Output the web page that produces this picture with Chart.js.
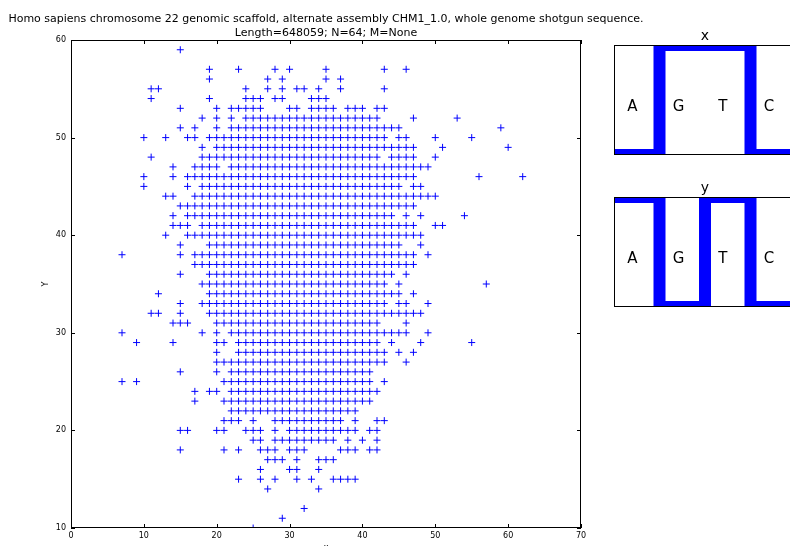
<!DOCTYPE html>
<html>
<head>
<meta charset="utf-8">
<script src="https://cdn.jsdelivr.net/npm/chart.js@4.4.1/dist/chart.umd.min.js"></script>
<style>
  html, body { margin: 0; padding: 0; background: #fff; overflow: hidden; width: 790px; height: 546px; }
  canvas { position: absolute; }
  #main { left: 0; top: 0; }
  #panelX { left: 614px; top: 20px; }
  #panelY { left: 614px; top: 172px; }
</style>
</head>
<body>
<canvas id="main" width="652" height="560"></canvas>
<canvas id="panelX" width="182" height="135"></canvas>
<canvas id="panelY" width="182" height="135"></canvas>
<script>
// Scatter of (x, y) pairs, one list of x values per y level.
const rowLevels = [59, 57, 56, 55, 54, 53, 52, 51, 50, 49, 48, 47, 46, 45, 44, 43, 42, 41, 40, 39, 38, 37, 36, 35, 34, 33, 32, 31, 30, 29, 28, 27, 26, 25, 24, 23, 22, 21, 20, 19, 18, 17, 16, 15, 14, 12, 11, 10];
const rowXs = [
  [15],
  [19,23,28,30,35,43,46],
  [19,27,29,35,37],
  [11,12,24,27,29,31,32,34,37,43],
  [11,19,24,25,26,28,29,33,34,35],
  [15,20,22,23,24,25,26,30,31,33,34,35,36,38,39,40,42,43],
  [18,20,22,24,25,26,27,28,29,30,31,32,33,34,35,36,37,38,39,40,41,42,47,53],
  [15,17,20,22,23,24,25,26,27,28,29,30,31,32,33,34,35,36,37,38,39,40,41,42,43,44,45,59],
  [10,13,16,17,19,20,21,22,23,24,25,26,27,28,29,30,31,32,33,34,35,36,37,38,39,40,41,42,43,45,46,50,55],
  [18,20,21,22,23,24,25,26,27,28,29,30,31,32,33,34,35,36,37,38,39,40,41,42,43,44,45,46,47,51,60],
  [11,18,19,20,21,22,23,24,25,26,27,28,29,30,31,32,33,34,35,36,37,38,39,40,41,42,44,45,46,47,50],
  [14,17,18,19,20,22,23,24,25,26,27,28,29,30,31,32,33,34,35,36,37,38,39,40,41,42,43,44,45,46,47,48,49],
  [10,14,16,17,18,19,20,21,22,23,24,25,26,27,28,29,30,31,32,33,34,35,36,37,38,39,40,41,42,43,44,45,46,47,56,62],
  [10,16,18,19,20,21,22,23,24,25,26,27,28,29,30,31,32,33,34,35,36,37,38,39,40,41,42,43,44,45,47,48],
  [13,14,17,18,19,20,21,22,23,24,25,26,27,28,29,30,31,32,33,34,35,36,37,38,39,40,41,42,43,44,45,46,47,48,49,50],
  [15,16,17,18,19,20,21,22,23,24,25,26,27,28,29,30,31,32,33,34,35,36,37,38,39,40,41,42,43,44,45,46,47],
  [14,16,17,18,19,20,21,22,23,24,25,26,27,28,29,30,31,32,33,34,35,36,37,38,39,40,41,42,43,44,46,48,54],
  [14,15,16,18,19,20,21,22,23,24,25,26,27,28,29,30,31,32,33,34,35,36,37,38,39,40,41,42,43,44,45,46,47,50,51],
  [13,16,17,18,19,20,21,22,23,24,25,26,27,28,29,30,31,32,33,34,35,36,37,38,39,40,41,42,43,44,45,46,47,48],
  [15,19,20,21,22,23,24,25,26,27,28,29,30,31,32,33,34,35,36,37,38,39,40,41,42,43,44,45,48],
  [7,15,17,18,19,20,21,22,23,24,25,26,27,28,29,30,31,32,33,34,35,36,37,38,39,40,41,42,43,44,45,46,47,49],
  [17,18,19,20,21,22,23,24,25,26,27,28,29,30,31,32,33,34,35,36,37,38,39,40,41,42,43,44,45,46,47],
  [15,19,20,21,22,23,24,25,26,27,28,29,30,31,32,33,34,35,36,37,38,39,40,41,42,43,44,46],
  [18,19,20,21,22,23,24,25,26,27,28,29,30,31,32,33,34,35,36,37,38,39,40,41,42,43,45,57],
  [12,19,20,21,22,23,24,25,26,27,28,29,30,31,32,33,34,35,36,37,38,39,40,41,42,43,44,45,47],
  [15,18,19,20,21,22,23,24,25,26,27,28,29,30,31,32,33,34,35,36,37,38,39,40,41,42,43,45,46,49],
  [11,12,15,19,20,21,22,23,24,25,26,27,28,29,30,31,32,33,34,35,36,37,38,39,40,41,42,43,44,45,46,47,48],
  [14,15,16,20,21,22,23,24,25,26,27,28,29,30,31,32,33,34,35,36,37,38,39,40,41,42,46],
  [7,18,20,22,23,24,25,26,27,28,29,30,31,32,33,34,35,36,37,38,39,40,41,42,43,44,45,46,49],
  [9,14,20,21,23,24,25,26,27,28,29,30,31,32,33,34,35,36,37,38,39,40,41,42,44,48,55],
  [20,23,24,25,26,27,28,29,30,31,32,33,34,35,36,37,38,39,40,41,42,43,45,47],
  [20,21,22,23,24,25,26,27,28,29,30,31,32,33,34,35,36,37,38,39,40,41,42,43,46],
  [15,20,22,23,24,25,26,27,28,29,30,31,32,33,34,35,36,37,38,39,40,41],
  [7,9,21,22,23,24,25,26,27,28,29,30,31,32,33,34,35,36,37,38,39,40,41,43],
  [17,19,20,22,23,24,25,26,27,28,29,30,31,32,33,34,35,36,37,38,39,40,41,42],
  [17,21,22,23,24,25,26,27,28,29,30,31,32,33,34,35,36,37,38,39,40,41],
  [22,23,24,25,26,27,28,29,30,31,32,33,34,35,36,37,38,39],
  [21,22,23,25,28,29,30,31,32,33,34,35,36,37,39,42,43],
  [15,16,20,21,24,25,26,28,30,31,32,33,34,35,36,37,38,39,41,42],
  [25,26,28,29,30,31,32,33,34,35,36,38,40,42],
  [15,21,23,26,27,28,30,31,32,37,38,39,41,42],
  [27,28,29,31,34,35,36],
  [26,30,31,34],
  [23,26,28,31,33,36,37,38,39],
  [27,34],
  [32],
  [29],
  [25]
];

const xTickValues = [0, 10, 20, 30, 40, 50, 60, 70];
const yTickValues = [10, 20, 30, 40, 50, 60];

// Base-composition step panels
const baseLabels = ['A', 'G', 'T', 'C'];
const panelXValues = [0, 1, 1, 0];
const panelYValues = [1, 0, 1, 0];

const titleLines = [
  'Homo sapiens chromosome 22 genomic scaffold, alternate assembly CHM1_1.0, whole genome shotgun sequence.',
  'Length=648059; N=64; M=None'
];

const FONT = "'DejaVu Sans', sans-serif";
const BLUE = 'rgb(0,0,255)';

const points = [];
rowLevels.forEach((y, i) => rowXs[i].forEach(x => points.push({ x, y })));

// Black frame with inward ticks on all four sides
const frameTicks = {
  id: 'frameTicks',
  afterDatasetsDraw(chart) {
    const { ctx, chartArea: a, scales } = chart;
    const len = 4;
    ctx.save();
    ctx.strokeStyle = '#000';
    ctx.lineWidth = 1;
    ctx.beginPath();
    xTickValues.forEach(v => {
      const px = Math.round(scales.x.getPixelForValue(v)) + 0.5;
      ctx.moveTo(px, a.bottom); ctx.lineTo(px, a.bottom - len);
      ctx.moveTo(px, a.top); ctx.lineTo(px, a.top + len);
    });
    yTickValues.forEach(v => {
      const py = Math.round(scales.y.getPixelForValue(v)) + 0.5;
      ctx.moveTo(a.left, py); ctx.lineTo(a.left + len, py);
      ctx.moveTo(a.right, py); ctx.lineTo(a.right - len, py);
    });
    ctx.stroke();
    ctx.strokeRect(Math.round(a.left) + 0.5, Math.round(a.top) + 0.5,
                   Math.round(a.right - a.left) - 1, Math.round(a.bottom - a.top) - 1);
    ctx.restore();
  }
};

new Chart(document.getElementById('main'), {
  type: 'scatter',
  data: {
    datasets: [{
      data: points,
      pointStyle: 'cross',
      pointRadius: 3.5,
      pointBorderWidth: 1,
      borderColor: BLUE,
      backgroundColor: BLUE,
      clip: 0
    }]
  },
  options: {
    responsive: false,
    animation: false,
    devicePixelRatio: 1,
    events: [],
    layout: { padding: 0 },
    plugins: {
      legend: { display: false },
      tooltip: { enabled: false },
      title: {
        display: true,
        text: titleLines,
        color: '#000',
        font: { family: FONT, size: 11, weight: 'normal', lineHeight: 14 / 11 },
        padding: { top: 12, bottom: 0 }
      }
    },
    scales: {
      x: {
        type: 'linear', min: 0, max: 70,
        afterFit: s => { s.height = 32; },
        afterBuildTicks: s => { s.ticks = xTickValues.map(v => ({ value: v })); },
        grid: { display: false, drawTicks: false },
        border: { display: false },
        ticks: { color: '#000', font: { family: FONT, size: 8 }, padding: 3, maxRotation: 0 },
        title: { display: true, text: 'x', color: '#000', font: { family: FONT, size: 8 }, padding: { top: 0, bottom: 7 } }
      },
      y: {
        type: 'linear', min: 10, max: 60,
        afterFit: s => { s.width = 71; },
        afterBuildTicks: s => { s.ticks = yTickValues.map(v => ({ value: v })); },
        grid: { display: false, drawTicks: false },
        border: { display: false },
        ticks: { color: '#000', font: { family: FONT, size: 8 }, padding: 5 },
        title: { display: true, text: 'Y', color: '#000', font: { family: FONT, size: 8 }, padding: { top: 41, bottom: 0 } }
      },
      // empty right-hand gutter so the plot box ends where the side panels begin
      gutter: {
        type: 'linear', position: 'right', display: true,
        afterFit: s => { s.width = 71; },
        grid: { display: false, drawTicks: false },
        border: { display: false },
        ticks: { display: false }
      }
    }
  },
  plugins: [frameTicks]
});

// Step panel: one step per base, letters inside, black frame
function stepPoints(values) {
  const pts = values.map((v, i) => ({ x: i, y: v }));
  pts.push({ x: values.length, y: values[values.length - 1] });
  return pts;
}

const panelDecor = {
  id: 'panelDecor',
  afterDatasetsDraw(chart) {
    const { ctx, chartArea: a, scales } = chart;
    ctx.save();
    ctx.fillStyle = '#000';
    ctx.font = `15px ${FONT}`;
    ctx.textAlign = 'left';
    ctx.textBaseline = 'alphabetic';
    baseLabels.forEach((b, i) => {
      ctx.fillText(b, scales.x.getPixelForValue(i + 0.29), scales.y.getPixelForValue(0.4));
    });
    ctx.strokeStyle = '#000';
    ctx.lineWidth = 1;
    ctx.strokeRect(a.left + 0.5, a.top + 0.5, a.right - a.left - 1, a.bottom - a.top - 1);
    ctx.restore();
  }
};

function makePanel(id, name, values) {
  new Chart(document.getElementById(id), {
    type: 'line',
    data: {
      datasets: [{
        data: stepPoints(values),
        stepped: 'before',
        borderColor: BLUE,
        borderWidth: 12,
        borderJoinStyle: 'miter',
        borderCapStyle: 'butt',
        pointRadius: 0,
        fill: false,
        clip: 0
      }]
    },
    options: {
      responsive: false,
      animation: false,
      devicePixelRatio: 1,
      events: [],
      layout: { padding: 0 },
      plugins: {
        legend: { display: false },
        tooltip: { enabled: false },
        title: {
          display: true,
          text: name,
          color: '#000',
          font: { family: FONT, size: 14, weight: 'normal', lineHeight: 1.2 },
          padding: { top: 7.6, bottom: 0.6 }
        }
      },
      scales: {
        x: { type: 'linear', min: 0, max: values.length, display: false },
        y: { type: 'linear', min: 0, max: 1, display: false }
      }
    },
    plugins: [panelDecor]
  });
}

makePanel('panelX', 'x', panelXValues);
makePanel('panelY', 'y', panelYValues);
</script>
</body>
</html>
